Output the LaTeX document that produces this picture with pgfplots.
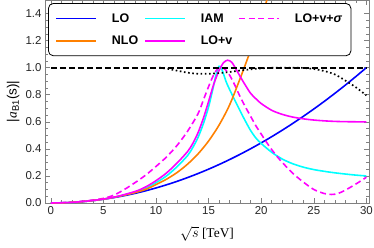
\documentclass[border=0pt]{standalone}
\usepackage{pgfplots}
\pgfplotsset{compat=1.18}
\usepackage{fontspec}
\setmainfont{Liberation Sans}
\newfontfamily\seriffont{Liberation Serif}
\definecolor{cLO}{rgb}{0,0,1}
\definecolor{cNLO}{rgb}{1,0.5,0}
\definecolor{cIAM}{rgb}{0,1,1}
\definecolor{cLOv}{rgb}{1,0,1}
\definecolor{framegray}{gray}{0.5}
\begin{document}
\begin{tikzpicture}
\begin{axis}[
  at={(0,0)}, anchor=south west,
  scale only axis, width=324bp, height=203bp,
  xmin=-0.55, xmax=30.25, ymin=0, ymax=1.5,
  xtick={0,5,...,30}, minor x tick num=4,
  ytick={0,0.2,0.4,0.6,0.8,1.0,1.2,1.4}, minor y tick num=3,
  tick align=inside, major tick length=5bp, minor tick length=3bp,
  axis line style={framegray, line width=0.6pt},
  tick style={framegray, line width=0.5pt},
  /pgf/number format/assume math mode=true,
  xticklabel style={/pgf/number format/fixed},
  yticklabel style={/pgf/number format/fixed, /pgf/number format/fixed zerofill, /pgf/number format/precision=1},
  ticklabel style={font=\fontsize{11.5}{13}\selectfont, text=black!85},
  xlabel={{\seriffont$\sqrt{s}$ [TeV]}},
  ylabel={|{\seriffont\itshape a}\textsubscript{B1}(s)|},
  xlabel style={at={(axis description cs:0.5,-0.153)}, anchor=center, font=\fontsize{13.5}{15}\selectfont},
  ylabel style={at={(axis description cs:-0.098,0.5)}, anchor=center, font=\fontsize{13.5}{15}\selectfont},
  legend columns=3,
  legend cell align=left,
  legend image code/.code={\draw[#1] (0bp,0bp) -- (40bp,0bp);},
  legend style={at={(axis description cs:0.0093,0.985)}, anchor=north west,
    draw=black, line width=0.8pt, rounded corners=5pt, fill=white,
    font=\bfseries\fontsize{12.5}{14}\selectfont,
    inner xsep=7bp, inner ysep=8bp, row sep=8bp,
    /tikz/every even column/.append style={column sep=4bp},
    /tikz/every odd column/.append style={column sep=13bp}},
]
\addplot[cLO, line width=1.6pt, smooth] coordinates {
(0,0) (1,0.0011) (2,0.0044) (3,0.01) (4,0.0178) (5,0.0278) (6,0.04) (7,0.0544) (8,0.0711) (9,0.09) (10,0.1111) (11,0.1344) (12,0.16) (13,0.1878) (14,0.2178) (15,0.25) (16,0.2844) (17,0.3211) (18,0.36) (19,0.4011) (20,0.4444) (21,0.49) (22,0.5378) (23,0.5878) (24,0.64) (25,0.6944) (26,0.7511) (27,0.81) (28,0.8711) (29,0.9344) (30,1.0)};
\addlegendentry{LO}
\addplot[cIAM, line width=1.6pt, smooth] coordinates {
(0,0) (2,0.0045) (4,0.0181) (6,0.042) (8,0.08) (9,0.108) (10,0.15) (11,0.2) (12,0.268) (13,0.35) (13.5,0.41) (14,0.485) (14.5,0.585) (15,0.71) (15.4,0.84) (15.7,0.945) (16.0,1.01) (16.3,0.98) (16.7,0.89) (17.3,0.79) (18,0.68) (18.5,0.605) (19,0.535) (19.5,0.48) (20,0.44) (21,0.375) (22,0.325) (23,0.29) (24,0.265) (25,0.247) (26,0.234) (27,0.223) (28,0.214) (29,0.206) (30,0.2)};
\addlegendentry{IAM}
\addplot[cLOv, line width=1.6pt, dash pattern=on 6bp off 3.5bp, smooth] coordinates {
(0,0) (2,0.006) (4,0.022) (5,0.034) (6,0.058) (7,0.1) (8,0.15) (9,0.205) (10,0.27) (11,0.34) (12,0.425) (13,0.53) (14,0.66) (14.5,0.76) (15,0.86) (15.5,0.95) (15.9,0.995) (16.2,1.005) (16.6,0.985) (17,0.945) (17.5,0.87) (18,0.785) (18.5,0.71) (19,0.64) (19.5,0.57) (20,0.51) (20.5,0.45) (21,0.395) (21.5,0.345) (22,0.3) (23,0.22) (24,0.155) (25,0.1) (26,0.07) (26.7,0.063) (27.3,0.07) (28,0.095) (29,0.14) (30,0.19)};
\addlegendentry{LO+v+{\itshape σ}}
\addplot[cNLO, line width=1.6pt, smooth] coordinates {
(0,0) (1,0.0011) (2,0.0045) (3,0.0101) (4,0.018) (5,0.0285) (6,0.042) (7,0.058) (8,0.077) (9,0.1) (10,0.136) (11,0.176) (12,0.225) (13,0.287) (14,0.363) (15,0.458) (16,0.576) (17,0.725) (18,0.92) (19,1.13) (20,1.36) (21,1.62)};
\addlegendentry{NLO}
\addplot[cLOv, line width=1.6pt, smooth] coordinates {
(0,0) (2,0.0046) (4,0.0185) (6,0.043) (8,0.085) (9,0.118) (10,0.165) (11,0.222) (12,0.295) (13,0.38) (13.5,0.44) (14,0.52) (14.5,0.625) (15,0.75) (15.5,0.88) (16,0.98) (16.4,1.035) (16.8,1.055) (17.2,1.04) (17.6,0.99) (18,0.935) (18.5,0.87) (19,0.81) (19.5,0.77) (20,0.735) (21,0.685) (22,0.655) (23,0.635) (24,0.622) (25,0.613) (26,0.607) (27,0.603) (28,0.601) (29,0.6) (30,0.599)};
\addlegendentry{LO+v}
\addplot[black, line width=1.8pt, dash pattern=on 6bp off 3bp, forget plot] coordinates {(0,1) (30,1)};
\addplot[black, line width=1.7pt, dash pattern=on 1.6bp off 2.6bp, smooth, forget plot] coordinates {
(10.3,1.0) (11,0.993) (12,0.978) (13,0.963) (14,0.955) (15,0.955) (16,0.96) (17,0.968) (18,0.979) (19,0.988) (20,0.995) (21,0.999) (22,1.0) (23,1.0) (24,0.998) (25,0.99) (26,0.975) (27,0.95) (28,0.905) (29,0.855) (30,0.795)};
\end{axis}
\pgfresetboundingbox
\useasboundingbox (-45bp,-45bp) rectangle (329bp,203bp);
\end{tikzpicture}
\end{document}
